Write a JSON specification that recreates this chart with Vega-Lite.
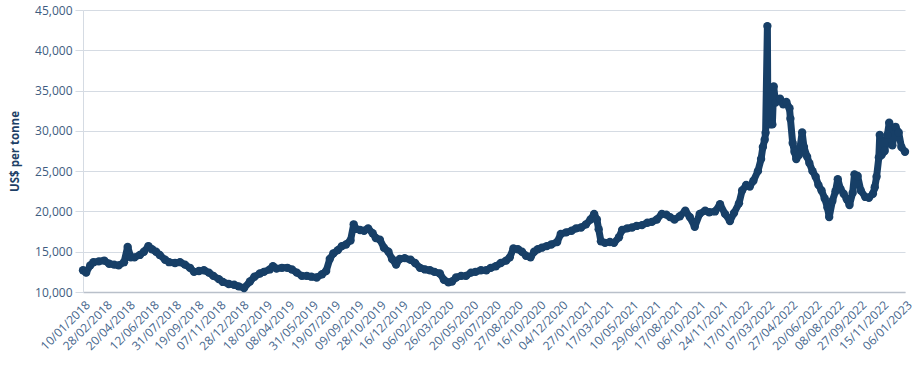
{
  "$schema": "https://vega.github.io/schema/vega-lite/v6.json",
  "autosize": {"type": "none"},
  "width": 822,
  "height": 282,
  "padding": {"left": 83, "top": 10, "right": 11, "bottom": 74},
  "background": "white",
  "config": {
    "view": {"stroke": null},
    "font": "Open Sans",
    "axis": {"labelFont": "Open Sans", "titleFont": "Open Sans"}
  },
  "data": {
    "values": [
      {"d": "2018-01-10", "v": 12700}, {"d": "2018-01-17", "v": 12400}, {"d": "2018-01-26", "v": 13300},
      {"d": "2018-02-02", "v": 13700}, {"d": "2018-02-14", "v": 13800}, {"d": "2018-02-26", "v": 13900},
      {"d": "2018-03-09", "v": 13500}, {"d": "2018-03-20", "v": 13400}, {"d": "2018-03-30", "v": 13300},
      {"d": "2018-04-11", "v": 13700}, {"d": "2018-04-19", "v": 15600}, {"d": "2018-04-26", "v": 14300},
      {"d": "2018-05-04", "v": 14300}, {"d": "2018-05-16", "v": 14600}, {"d": "2018-05-25", "v": 15000},
      {"d": "2018-06-04", "v": 15700}, {"d": "2018-06-12", "v": 15300}, {"d": "2018-06-21", "v": 15000},
      {"d": "2018-06-29", "v": 14600}, {"d": "2018-07-11", "v": 14000}, {"d": "2018-07-20", "v": 13700},
      {"d": "2018-08-02", "v": 13600}, {"d": "2018-08-13", "v": 13700}, {"d": "2018-08-24", "v": 13400},
      {"d": "2018-09-04", "v": 13000}, {"d": "2018-09-13", "v": 12500}, {"d": "2018-09-24", "v": 12600},
      {"d": "2018-10-05", "v": 12700}, {"d": "2018-10-16", "v": 12400}, {"d": "2018-10-26", "v": 12000},
      {"d": "2018-11-07", "v": 11600}, {"d": "2018-11-16", "v": 11250}, {"d": "2018-11-29", "v": 11000},
      {"d": "2018-12-11", "v": 10900}, {"d": "2018-12-21", "v": 10700}, {"d": "2019-01-02", "v": 10500},
      {"d": "2019-01-15", "v": 11300}, {"d": "2019-01-25", "v": 11900}, {"d": "2019-02-06", "v": 12300},
      {"d": "2019-02-15", "v": 12500}, {"d": "2019-02-28", "v": 12800}, {"d": "2019-03-07", "v": 13200},
      {"d": "2019-03-15", "v": 12900}, {"d": "2019-03-27", "v": 13000}, {"d": "2019-04-08", "v": 13000},
      {"d": "2019-04-18", "v": 12800}, {"d": "2019-04-29", "v": 12400}, {"d": "2019-05-10", "v": 12000},
      {"d": "2019-05-21", "v": 12000}, {"d": "2019-05-31", "v": 11900}, {"d": "2019-06-12", "v": 11800},
      {"d": "2019-06-24", "v": 12200}, {"d": "2019-07-03", "v": 12600}, {"d": "2019-07-11", "v": 14100},
      {"d": "2019-07-19", "v": 14800}, {"d": "2019-07-29", "v": 15200}, {"d": "2019-08-07", "v": 15700},
      {"d": "2019-08-16", "v": 15900}, {"d": "2019-08-26", "v": 16400}, {"d": "2019-09-02", "v": 18400},
      {"d": "2019-09-06", "v": 17900}, {"d": "2019-09-16", "v": 17700}, {"d": "2019-09-25", "v": 17600},
      {"d": "2019-10-04", "v": 17900}, {"d": "2019-10-14", "v": 17300}, {"d": "2019-10-21", "v": 16700},
      {"d": "2019-10-30", "v": 16500}, {"d": "2019-11-08", "v": 15500}, {"d": "2019-11-18", "v": 15000},
      {"d": "2019-11-26", "v": 14100}, {"d": "2019-12-05", "v": 13400}, {"d": "2019-12-13", "v": 14100},
      {"d": "2019-12-24", "v": 14200}, {"d": "2020-01-06", "v": 14000}, {"d": "2020-01-16", "v": 13600},
      {"d": "2020-01-27", "v": 13000}, {"d": "2020-02-07", "v": 12800}, {"d": "2020-02-18", "v": 12700},
      {"d": "2020-02-28", "v": 12500}, {"d": "2020-03-11", "v": 12300}, {"d": "2020-03-20", "v": 11500},
      {"d": "2020-03-30", "v": 11200}, {"d": "2020-04-07", "v": 11300}, {"d": "2020-04-16", "v": 11800},
      {"d": "2020-04-27", "v": 12000}, {"d": "2020-05-08", "v": 12000}, {"d": "2020-05-19", "v": 12400},
      {"d": "2020-05-29", "v": 12500}, {"d": "2020-06-10", "v": 12700}, {"d": "2020-06-22", "v": 12700},
      {"d": "2020-07-02", "v": 13000}, {"d": "2020-07-13", "v": 13200}, {"d": "2020-07-24", "v": 13600},
      {"d": "2020-08-05", "v": 13900}, {"d": "2020-08-13", "v": 14300}, {"d": "2020-08-21", "v": 15400},
      {"d": "2020-08-31", "v": 15300}, {"d": "2020-09-09", "v": 15000}, {"d": "2020-09-18", "v": 14500},
      {"d": "2020-09-28", "v": 14300}, {"d": "2020-10-06", "v": 15000}, {"d": "2020-10-14", "v": 15300},
      {"d": "2020-10-23", "v": 15500}, {"d": "2020-11-03", "v": 15700}, {"d": "2020-11-13", "v": 15900},
      {"d": "2020-11-26", "v": 16200}, {"d": "2020-12-04", "v": 17200}, {"d": "2020-12-16", "v": 17400},
      {"d": "2020-12-28", "v": 17600}, {"d": "2021-01-07", "v": 17900}, {"d": "2021-01-18", "v": 18000},
      {"d": "2021-01-29", "v": 18400}, {"d": "2021-02-08", "v": 19000}, {"d": "2021-02-16", "v": 19700},
      {"d": "2021-02-22", "v": 19000}, {"d": "2021-02-26", "v": 17800}, {"d": "2021-03-03", "v": 16300},
      {"d": "2021-03-12", "v": 16100}, {"d": "2021-03-23", "v": 16200}, {"d": "2021-04-01", "v": 16100},
      {"d": "2021-04-12", "v": 16800}, {"d": "2021-04-19", "v": 17700}, {"d": "2021-04-30", "v": 17900},
      {"d": "2021-05-11", "v": 18000}, {"d": "2021-05-21", "v": 18200}, {"d": "2021-06-02", "v": 18300},
      {"d": "2021-06-14", "v": 18600}, {"d": "2021-06-24", "v": 18700}, {"d": "2021-07-05", "v": 19000},
      {"d": "2021-07-16", "v": 19700}, {"d": "2021-07-26", "v": 19600}, {"d": "2021-08-03", "v": 19300},
      {"d": "2021-08-13", "v": 19000}, {"d": "2021-08-25", "v": 19400}, {"d": "2021-09-06", "v": 20100},
      {"d": "2021-09-16", "v": 19300}, {"d": "2021-09-27", "v": 18100}, {"d": "2021-10-08", "v": 19700},
      {"d": "2021-10-20", "v": 20100}, {"d": "2021-10-29", "v": 19900}, {"d": "2021-11-11", "v": 20000},
      {"d": "2021-11-22", "v": 20900}, {"d": "2021-12-03", "v": 19700}, {"d": "2021-12-14", "v": 18800},
      {"d": "2021-12-23", "v": 19800}, {"d": "2022-01-03", "v": 21000}, {"d": "2022-01-10", "v": 22600},
      {"d": "2022-01-19", "v": 23300}, {"d": "2022-01-27", "v": 23100}, {"d": "2022-02-04", "v": 23800},
      {"d": "2022-02-14", "v": 25000}, {"d": "2022-02-21", "v": 26500}, {"d": "2022-02-25", "v": 28000},
      {"d": "2022-03-01", "v": 28900}, {"d": "2022-03-03", "v": 29750}, {"d": "2022-03-07", "v": 43000},
      {"d": "2022-03-08", "v": 30800}, {"d": "2022-03-14", "v": 30800}, {"d": "2022-03-18", "v": 30800},
      {"d": "2022-03-21", "v": 35500}, {"d": "2022-03-25", "v": 33500}, {"d": "2022-04-04", "v": 34000},
      {"d": "2022-04-11", "v": 33300}, {"d": "2022-04-18", "v": 33600}, {"d": "2022-04-25", "v": 32800},
      {"d": "2022-04-27", "v": 31500}, {"d": "2022-05-02", "v": 28500}, {"d": "2022-05-06", "v": 27400},
      {"d": "2022-05-10", "v": 26500}, {"d": "2022-05-16", "v": 27000}, {"d": "2022-05-23", "v": 29800},
      {"d": "2022-05-27", "v": 28000}, {"d": "2022-06-03", "v": 26800}, {"d": "2022-06-08", "v": 26000},
      {"d": "2022-06-15", "v": 25000}, {"d": "2022-06-22", "v": 24300}, {"d": "2022-06-28", "v": 23300},
      {"d": "2022-07-05", "v": 22600}, {"d": "2022-07-12", "v": 21600}, {"d": "2022-07-18", "v": 20500},
      {"d": "2022-07-22", "v": 19300}, {"d": "2022-07-29", "v": 21300}, {"d": "2022-08-05", "v": 22500},
      {"d": "2022-08-10", "v": 24000}, {"d": "2022-08-16", "v": 22800}, {"d": "2022-08-23", "v": 22200},
      {"d": "2022-08-30", "v": 21500}, {"d": "2022-09-05", "v": 20800}, {"d": "2022-09-12", "v": 22300},
      {"d": "2022-09-16", "v": 24600}, {"d": "2022-09-23", "v": 24400}, {"d": "2022-09-30", "v": 22600},
      {"d": "2022-10-10", "v": 21800}, {"d": "2022-10-18", "v": 21700}, {"d": "2022-10-27", "v": 22200},
      {"d": "2022-10-31", "v": 23000}, {"d": "2022-11-04", "v": 24300}, {"d": "2022-11-09", "v": 26700},
      {"d": "2022-11-11", "v": 29500}, {"d": "2022-11-15", "v": 27000}, {"d": "2022-11-22", "v": 27500},
      {"d": "2022-11-28", "v": 29500}, {"d": "2022-12-02", "v": 31000}, {"d": "2022-12-09", "v": 28200},
      {"d": "2022-12-16", "v": 30500}, {"d": "2022-12-23", "v": 29800}, {"d": "2022-12-29", "v": 28000},
      {"d": "2023-01-06", "v": 27400}
    ]
  },
  "encoding": {
    "x": {
      "field": "d",
      "type": "temporal",
      "scale": {"type": "utc", "domain": [{"year": 2018, "month": 1, "date": 10, "utc": true}, {"year": 2023, "month": 1, "date": 6, "utc": true}], "nice": false},
      "axis": {
        "title": null,
        "labelExpr": "utcFormat(datum.value, '%d/%m/%Y')",
        "values": [
          {"year": 2018, "month": 1, "date": 10, "utc": true}, {"year": 2018, "month": 2, "date": 28, "utc": true},
          {"year": 2018, "month": 4, "date": 20, "utc": true}, {"year": 2018, "month": 6, "date": 12, "utc": true},
          {"year": 2018, "month": 7, "date": 31, "utc": true}, {"year": 2018, "month": 9, "date": 19, "utc": true},
          {"year": 2018, "month": 11, "date": 7, "utc": true}, {"year": 2018, "month": 12, "date": 28, "utc": true},
          {"year": 2019, "month": 2, "date": 18, "utc": true}, {"year": 2019, "month": 4, "date": 8, "utc": true},
          {"year": 2019, "month": 5, "date": 31, "utc": true}, {"year": 2019, "month": 7, "date": 19, "utc": true},
          {"year": 2019, "month": 9, "date": 9, "utc": true}, {"year": 2019, "month": 10, "date": 28, "utc": true},
          {"year": 2019, "month": 12, "date": 16, "utc": true}, {"year": 2020, "month": 2, "date": 6, "utc": true},
          {"year": 2020, "month": 3, "date": 26, "utc": true}, {"year": 2020, "month": 5, "date": 20, "utc": true},
          {"year": 2020, "month": 7, "date": 9, "utc": true}, {"year": 2020, "month": 8, "date": 27, "utc": true},
          {"year": 2020, "month": 10, "date": 16, "utc": true}, {"year": 2020, "month": 12, "date": 4, "utc": true},
          {"year": 2021, "month": 1, "date": 27, "utc": true}, {"year": 2021, "month": 3, "date": 17, "utc": true},
          {"year": 2021, "month": 5, "date": 10, "utc": true}, {"year": 2021, "month": 6, "date": 29, "utc": true},
          {"year": 2021, "month": 8, "date": 17, "utc": true}, {"year": 2021, "month": 10, "date": 6, "utc": true},
          {"year": 2021, "month": 11, "date": 24, "utc": true}, {"year": 2022, "month": 1, "date": 17, "utc": true},
          {"year": 2022, "month": 3, "date": 7, "utc": true}, {"year": 2022, "month": 4, "date": 27, "utc": true},
          {"year": 2022, "month": 6, "date": 20, "utc": true}, {"year": 2022, "month": 8, "date": 8, "utc": true},
          {"year": 2022, "month": 9, "date": 27, "utc": true}, {"year": 2022, "month": 11, "date": 15, "utc": true},
          {"year": 2023, "month": 1, "date": 6, "utc": true}
        ],
        "labelAngle": -45,
        "labelFontSize": 12,
        "labelColor": "#46668c",
        "labelPadding": 7,
        "labelOffset": 1,
        "labelOverlap": false,
        "labelFlush": false,
        "ticks": false,
        "grid": false,
        "domainColor": "#b9c0ca",
        "domainWidth": 1.5
      }
    },
    "y": {
      "field": "v",
      "type": "quantitative",
      "scale": {"domain": [10000, 45000], "nice": false, "zero": false},
      "axis": {
        "title": "US$ per tonne",
        "titleFontSize": 11.5,
        "titleFontWeight": "bold",
        "titleColor": "#1d3f66",
        "titlePadding": 14,
        "values": [10000, 15000, 20000, 25000, 30000, 35000, 40000, 45000],
        "format": ",.0f",
        "labelFontSize": 12,
        "labelColor": "#3e5c80",
        "labelPadding": 3,
        "tickSize": 8,
        "tickColor": "#d5dbe3",
        "gridColor": "#d5dbe3",
        "domainColor": "#d5dbe3"
      }
    }
  },
  "layer": [
    {"mark": {"type": "line", "color": "#173f67", "strokeWidth": 7, "strokeJoin": "round", "strokeCap": "round"}},
    {"mark": {"type": "point", "filled": true, "color": "#173f67", "size": 70, "opacity": 1}}
  ]
}
